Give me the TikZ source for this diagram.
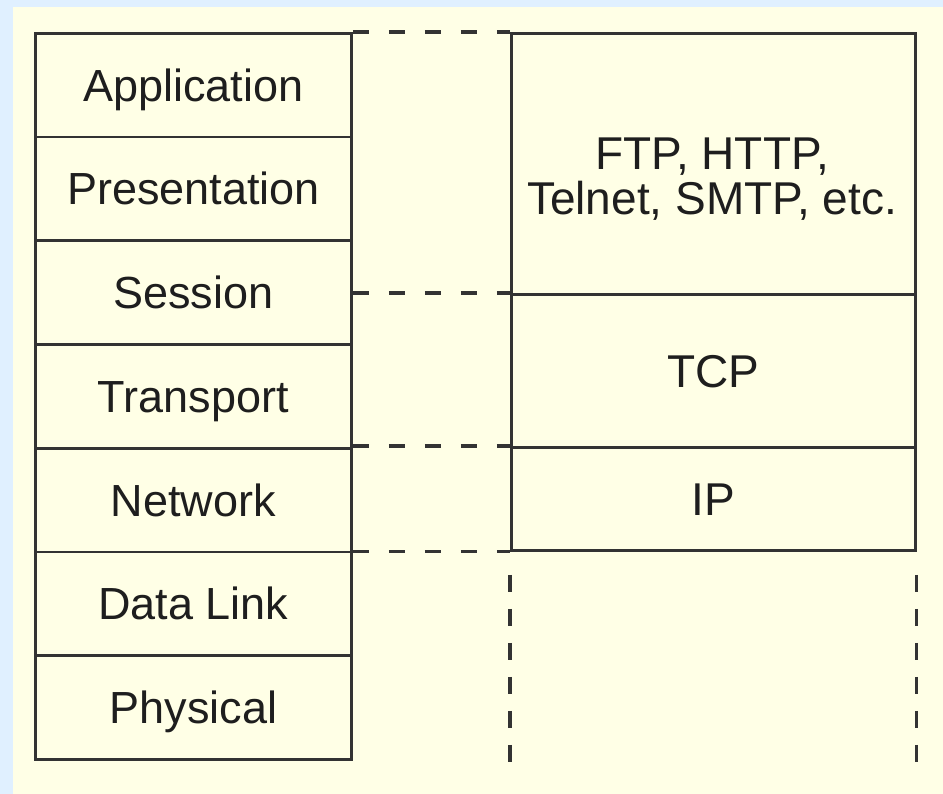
\documentclass[tikz,border=0pt]{standalone}
\usepackage{fontspec}
\setmainfont{Liberation Sans}
\definecolor{bgblue}{HTML}{E0F0FF}
\definecolor{bgyel}{HTML}{FFFFE6}
\definecolor{lc}{HTML}{333333}
\definecolor{tc}{HTML}{1E1E1E}
\begin{document}
\begin{tikzpicture}[x=1pt,y=-1pt,
  layer/.style={draw=lc, line width=2.8pt, rectangle, inner sep=0pt,
    minimum width=316pt, minimum height=103.7pt, anchor=north west,
    text=tc, font=\fontsize{45}{50}\selectfont, text height=32pt, text depth=0pt},
  rbox/.style={draw=lc, line width=2.8pt, rectangle, inner sep=0pt,
    minimum width=404pt, anchor=north west,
    text=tc, font=\fontsize{46}{50}\selectfont, text height=33pt, text depth=0pt},
  dsh/.style={draw=lc, line width=3.2pt, dash pattern=on 16pt off 20pt},
  vdsh/.style={draw=lc, line width=3.2pt, dash pattern=on 17pt off 17pt}]
\useasboundingbox (0,0) rectangle (943,794);
\fill[bgblue] (0,0) rectangle (943,794);
\fill[bgyel] (13,7) rectangle (943,794);
% left stack
\node[layer] (app)   at (34,32)    {Application};
\node[layer] (pres)  at (34,135.7) {Presentation};
\node[layer] (sess)  at (34,239.4) {Session};
\node[layer] (trans) at (34,343.1) {Transport};
\node[layer] (net)   at (34,446.8) {Network};
\node[layer] (dl)    at (34,550.5) {Data Link};
\node[layer] (phys)  at (34,654.2) {Physical};
% right stack
\node[rbox, minimum height=261pt] (apps) at (510,32) {};
\node[rbox, minimum height=153pt] (tcp) at (510,293) {TCP};
\node[rbox, minimum height=103pt] (ip) at (510,446) {IP};
\node[text=tc, font=\fontsize{46}{45}\selectfont, align=center, anchor=base] (appl) at (712,215) {FTP, HTTP,\\Telnet, SMTP, etc.};
% dashed connectors
\draw[dsh] (app.north east) -- (apps.north west);
\draw[dsh] (tcp.north west -| sess.east) -- (tcp.north west);
\draw[dsh] (ip.north west -| net.east) -- (ip.north west);
\draw[dsh] (ip.south west -| net.east) -- (ip.south west);
\coordinate (l1) at ([yshift=-23pt]ip.south west);
\coordinate (l2) at ([yshift=-210pt]ip.south west);
\coordinate (r1) at ([yshift=-23pt]ip.south east);
\coordinate (r2) at ([yshift=-210pt]ip.south east);
\draw[vdsh] (l1) -- (l2);
\draw[vdsh] (r1) -- (r2);
\end{tikzpicture}
\end{document}
